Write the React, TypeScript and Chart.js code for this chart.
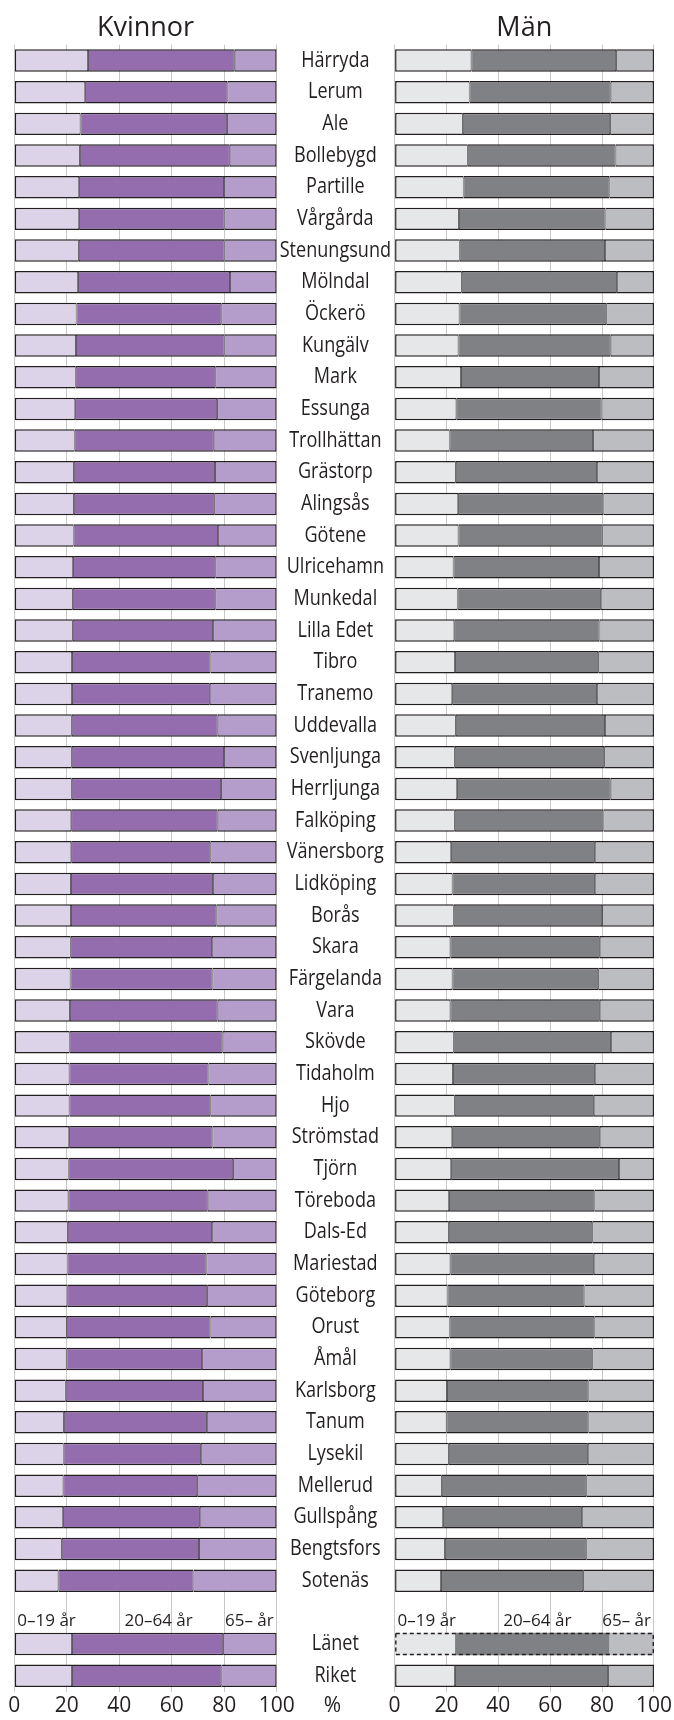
import React, { useEffect, useRef } from "react";
import { Chart, registerables } from "chart.js";

Chart.register(...registerables);

// ---------- DATA ----------
const categories = [
  "Härryda", "Lerum", "Ale", "Bollebygd", "Partille", "Vårgårda", "Stenungsund", "Mölndal", "Öckerö", "Kungälv",
  "Mark", "Essunga", "Trollhättan", "Grästorp", "Alingsås", "Götene", "Ulricehamn", "Munkedal", "Lilla Edet", "Tibro",
  "Tranemo", "Uddevalla", "Svenljunga", "Herrljunga", "Falköping", "Vänersborg", "Lidköping", "Borås", "Skara", "Färgelanda",
  "Vara", "Skövde", "Tidaholm", "Hjo", "Strömstad", "Tjörn", "Töreboda", "Dals-Ed", "Mariestad", "Göteborg",
  "Orust", "Åmål", "Karlsborg", "Tanum", "Lysekil", "Mellerud", "Gullspång", "Bengtsfors", "Sotenäs",
  "", "Länet", "Riket",
];

// Women, share (%) per age group
const womenAge0to19 = [
  28.1, 27.0, 25.2, 25.0, 24.7, 24.7, 24.6, 24.3, 23.7, 23.5,
  23.4, 23.2, 23.0, 22.7, 22.7, 22.6, 22.4, 22.3, 22.3, 22.0,
  22.0, 21.9, 21.9, 21.9, 21.7, 21.7, 21.6, 21.6, 21.5, 21.4,
  21.2, 21.1, 21.0, 21.0, 20.9, 20.7, 20.6, 20.4, 20.3, 20.2,
  20.0, 19.9, 19.6, 18.9, 18.8, 18.7, 18.6, 18.1, 16.8,
  null, 22.0, 22.0,
];
const womenAge20to64 = [
  55.9, 54.2, 55.9, 57.1, 55.2, 55.4, 55.5, 57.9, 55.2, 56.6,
  53.2, 54.1, 53.0, 53.8, 53.5, 55.0, 54.2, 54.3, 53.4, 52.8,
  52.5, 55.6, 58.0, 56.9, 55.8, 53.0, 54.1, 55.4, 53.8, 54.1,
  56.3, 58.3, 53.0, 53.7, 54.6, 62.7, 53.1, 54.9, 52.9, 53.3,
  54.8, 51.6, 52.3, 54.5, 52.3, 51.0, 52.1, 52.3, 51.5,
  null, 57.6, 56.9,
];
const womenAge65plus = [
  16.0, 18.8, 18.9, 17.9, 20.1, 19.9, 19.9, 17.8, 21.1, 19.9,
  23.4, 22.7, 24.0, 23.5, 23.8, 22.4, 23.4, 23.4, 24.3, 25.2,
  25.5, 22.5, 20.1, 21.2, 22.5, 25.3, 24.3, 23.0, 24.7, 24.5,
  22.5, 20.6, 26.0, 25.3, 24.5, 16.6, 26.3, 24.7, 26.8, 26.5,
  25.2, 28.5, 28.1, 26.6, 28.9, 30.3, 29.3, 29.6, 31.7,
  null, 20.4, 21.1,
];

// Men, share (%) per age group
const menAge0to19 = [
  29.6, 28.9, 26.3, 28.2, 26.6, 24.8, 25.1, 25.9, 25.0, 24.6,
  25.6, 23.8, 21.2, 23.6, 24.5, 24.6, 22.7, 24.3, 23.0, 23.3,
  22.2, 23.6, 23.2, 24.1, 23.2, 21.8, 22.3, 22.8, 21.5, 22.3,
  21.5, 22.8, 22.5, 23.2, 22.2, 21.8, 21.0, 20.9, 21.5, 20.4,
  21.2, 21.5, 20.2, 20.0, 20.9, 18.2, 18.7, 19.4, 17.9,
  null, 23.3, 23.3,
];
const menAge20to64 = [
  55.8, 54.4, 56.8, 57.0, 56.2, 56.5, 56.0, 59.8, 56.6, 58.7,
  53.2, 56.0, 55.3, 54.4, 56.0, 55.5, 56.1, 55.2, 56.0, 55.2,
  55.8, 57.5, 57.6, 59.2, 57.3, 55.4, 54.9, 57.2, 57.6, 56.2,
  57.6, 60.6, 54.7, 53.6, 56.9, 64.7, 56.0, 55.3, 55.3, 52.8,
  55.8, 54.7, 54.5, 54.7, 53.6, 55.7, 53.5, 54.5, 54.8,
  null, 59.5, 59.0,
];
const menAge65plus = [
  14.6, 16.7, 16.9, 14.8, 17.2, 18.7, 18.9, 14.3, 18.4, 16.7,
  21.2, 20.2, 23.5, 22.0, 19.5, 19.9, 21.2, 20.5, 21.0, 21.5,
  22.0, 18.9, 19.2, 16.7, 19.5, 22.8, 22.8, 20.0, 20.9, 21.5,
  20.9, 16.6, 22.8, 23.2, 20.9, 13.5, 23.0, 23.8, 23.2, 26.8,
  23.0, 23.8, 25.3, 25.3, 25.5, 26.1, 27.8, 26.1, 27.3,
  null, 17.2, 17.7,
];

const ageGroupLabels = ["0–19 år", "20–64 år", "65– år"];
const panelTitles = ["Kvinnor", "Män"];
const unitLabel = "%";

// ---------- STYLE ----------
const FONT = "'Open Sans', 'Noto Sans', sans-serif";
const TEXT = "#231f20";
const BORDER = "#231f20";
const GRID = "#c8c8c8";
const womenColors = ["#dcd3e8", "#946dae", "#b49ccb"];
const menColors = ["#e6e7e8", "#808184", "#bcbdc0"];

const W = 674;
const H = 1720;
const PLOT_TOP = 44.7;
const PLOT_BOTTOM = 1691.5;
const LEFT_CANVAS_W = 394;
const LABEL_COL_W = 117.3;
const RIGHT_CANVAS_X = 380;
const RIGHT_CANVAS_W = W - RIGHT_CANVAS_X;

const legendIndex = categories.indexOf("");
const dashedIndex = categories.indexOf("Länet");

const OUT = 1.5;
const IN = 0.8;
const segBorders = [
  { top: OUT, bottom: OUT, left: OUT, right: IN },
  { top: OUT, bottom: OUT, left: IN, right: IN },
  { top: OUT, bottom: OUT, left: IN, right: OUT },
];

function drawCondensed(ctx: CanvasRenderingContext2D, text: string, x: number, y: number, sx: number) {
  ctx.save();
  ctx.translate(x, y);
  ctx.scale(sx, 1);
  ctx.fillText(text, 0, 0);
  ctx.restore();
}

function textPlugin(title: string, isLeft: boolean, dashRow: number | null) {
  return {
    id: "panelTexts",
    afterDatasetsDraw(chart: any) {
      if (dashRow === null) return;
      const ctx = chart.ctx;
      let minX = Infinity;
      let maxX = -Infinity;
      let top = 0;
      let h = 0;
      chart.data.datasets.forEach((_: any, di: number) => {
        const el = chart.getDatasetMeta(di).data[dashRow];
        if (!el) return;
        const p = el.getProps(["x", "base", "y", "height"], true);
        minX = Math.min(minX, p.x, p.base);
        maxX = Math.max(maxX, p.x, p.base);
        top = p.y - p.height / 2;
        h = p.height;
      });
      if (!isFinite(minX)) return;
      ctx.save();
      ctx.setLineDash([4, 3]);
      ctx.lineWidth = 1.4;
      ctx.strokeStyle = BORDER;
      ctx.strokeRect(minX + 0.7, top + 0.7, maxX - minX - 1.4, h - 1.4);
      ctx.restore();
    },
    afterDraw(chart: any) {
      const { ctx, chartArea, scales } = chart;
      const xs = scales.x;
      const ys = scales.y;
      ctx.save();
      ctx.fillStyle = TEXT;
      // panel title
      ctx.font = `27px ${FONT}`;
      ctx.textAlign = "center";
      ctx.textBaseline = "alphabetic";
      ctx.fillText(title, (chartArea.left + chartArea.right) / 2, 36);
      // age group legend in the empty row
      const ly = ys.getPixelForValue(legendIndex) + 13.5;
      ctx.font = `17px ${FONT}`;
      ctx.textAlign = "left";
      ctx.fillText(ageGroupLabels[0], xs.getPixelForValue(0) + 3, ly);
      ctx.textAlign = "center";
      ctx.fillText(ageGroupLabels[1], xs.getPixelForValue(55), ly);
      ctx.textAlign = "right";
      ctx.fillText(ageGroupLabels[2], xs.getPixelForValue(100) - 3, ly);
      if (isLeft) {
        // category names in the middle column
        const cx = (chartArea.right + chart.width) / 2;
        ctx.font = `21px ${FONT}`;
        ctx.textAlign = "center";
        ctx.textBaseline = "middle";
        categories.forEach((name, i) => {
          if (!name) return;
          drawCondensed(ctx, name, cx, ys.getPixelForValue(i), 0.86);
        });
        // unit label
        ctx.font = `21px ${FONT}`;
        ctx.fillText(unitLabel, cx - 3, chartArea.bottom + 15);
      }
      ctx.restore();
    },
  };
}

function buildConfig(
  series: (number | null)[][],
  colors: string[],
  title: string,
  isLeft: boolean
): any {
  return {
    type: "bar",
    data: {
      labels: categories,
      datasets: series.map((data, i) => ({
        label: ageGroupLabels[i],
        data,
        backgroundColor: colors[i],
        borderColor: BORDER,
        borderSkipped: false,
        borderWidth: (c: any) => (!isLeft && c.dataIndex === dashedIndex ? 0 : segBorders[i]),
        barPercentage: 0.71,
        categoryPercentage: 1,
      })),
    },
    options: {
      responsive: false,
      animation: false,
      devicePixelRatio: 1,
      indexAxis: "y",
      layout: {
        padding: isLeft
          ? { top: PLOT_TOP, left: 14.3, right: LABEL_COL_W, bottom: 0 }
          : { top: PLOT_TOP, left: 14.6, right: 17.6, bottom: 0 },
      },
      plugins: {
        legend: { display: false },
        tooltip: { enabled: false },
        title: { display: false },
      },
      scales: {
        x: {
          type: "linear",
          stacked: true,
          min: 0,
          max: 100,
          position: "bottom",
          ticks: {
            stepSize: 20,
            font: { family: FONT, size: 21 },
            color: TEXT,
            padding: 2,
            maxRotation: 0,
            autoSkip: false,
          },
          grid: { color: GRID, lineWidth: 1, drawTicks: false },
          border: { display: false },
          afterFit: (s: any) => {
            s.height = H - PLOT_BOTTOM;
          },
        },
        y: {
          type: "category",
          stacked: true,
          display: false,
        },
      },
    },
    plugins: [textPlugin(title, isLeft, isLeft ? null : dashedIndex)],
  };
}

export default function App() {
  const leftRef = useRef<HTMLCanvasElement>(null);
  const rightRef = useRef<HTMLCanvasElement>(null);

  useEffect(() => {
    const left = new Chart(
      leftRef.current as HTMLCanvasElement,
      buildConfig([womenAge0to19, womenAge20to64, womenAge65plus], womenColors, panelTitles[0], true)
    );
    const right = new Chart(
      rightRef.current as HTMLCanvasElement,
      buildConfig([menAge0to19, menAge20to64, menAge65plus], menColors, panelTitles[1], false)
    );
    return () => {
      left.destroy();
      right.destroy();
    };
  }, []);

  return (
    <div style={{ position: "absolute", left: 0, top: 0, width: W, height: H, background: "#ffffff" }}>
      <canvas
        ref={leftRef}
        width={LEFT_CANVAS_W}
        height={H}
        style={{ position: "absolute", left: 0, top: 0, width: LEFT_CANVAS_W, height: H }}
      />
      <canvas
        ref={rightRef}
        width={RIGHT_CANVAS_W}
        height={H}
        style={{ position: "absolute", left: RIGHT_CANVAS_X, top: 0, width: RIGHT_CANVAS_W, height: H }}
      />
    </div>
  );
}
